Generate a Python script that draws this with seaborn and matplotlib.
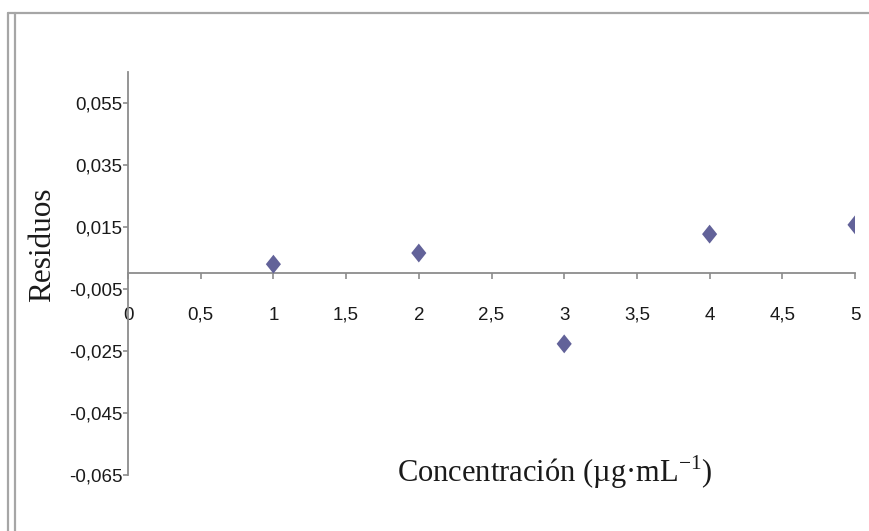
import matplotlib
matplotlib.use("Agg")
import matplotlib.pyplot as plt
from matplotlib.lines import Line2D
from matplotlib.ticker import FixedLocator, FuncFormatter
import seaborn as sns
import pandas as pd

# residuals
concentracion = [1, 2, 3, 4, 5]
residuos = [0.0030, 0.0066, -0.0227, 0.0127, 0.0157]
x_ticks = [0, 0.5, 1, 1.5, 2, 2.5, 3, 3.5, 4, 4.5, 5]
y_ticks = [-0.065, -0.045, -0.025, -0.005, 0.015, 0.035, 0.055]

df = pd.DataFrame({'conc': concentracion, 'res': residuos})

sns.set_style("white")
plt.rcParams['font.family'] = ['Liberation Sans', 'DejaVu Sans']

fig = plt.figure(figsize=(8.69, 5.31), dpi=100)
ax = fig.add_axes([0.1473, 0.1055, 0.8366, 0.7589])

diamond = [(0, 1), (0.8, 0), (0, -1), (-0.8, 0), (0, 1)]
sns.scatterplot(data=df, x='conc', y='res', marker=diamond, s=185,
                color='#626299', edgecolor='none', ax=ax, zorder=3)

ax.set_xlim(0, 5)
ax.set_ylim(-0.065, 0.065)

axis_col = '#8c8c8c'
for side in ['top', 'right']:
    ax.spines[side].set_visible(False)
ax.spines['bottom'].set_position(('data', 0))
ax.spines['left'].set_position(('data', 0))
for side in ['bottom', 'left']:
    ax.spines[side].set_color(axis_col)
    ax.spines[side].set_linewidth(1.3)

comma = FuncFormatter(lambda v, p: ('%g' % round(v, 3)).replace('.', ','))
ax.xaxis.set_major_locator(FixedLocator(x_ticks))
ax.yaxis.set_major_locator(FixedLocator(y_ticks))
ax.xaxis.set_major_formatter(comma)
ax.yaxis.set_major_formatter(comma)
ax.tick_params(axis='x', direction='out', length=4, width=1.2, color=axis_col,
               pad=20, labelsize=13.5, labelcolor='#1a1a1a', bottom=True)
ax.tick_params(axis='y', direction='out', length=3.5, width=1.2, color=axis_col,
               pad=0.5, labelsize=13.5, labelcolor='#1a1a1a', left=True)

ax.set_xlabel('Concentración (µg·mL$^{\\mathregular{-1}}$)', family='Liberation Serif',
              fontsize=22, color='#1a1a1a', va='center')
ax.xaxis.set_label_coords(0.587, 0.008)
ax.set_ylabel('Residuos', family='Liberation Serif', fontsize=22.5, color='#1a1a1a')
ax.yaxis.set_label_coords(-0.098, 0.571)

# frame lines of the original chart box
frame_col = '#a6a6a6'
fig.add_artist(Line2D([8 / 869, 1], [1 - 13 / 531] * 2, color=frame_col, lw=1.6))
fig.add_artist(Line2D([8 / 869] * 2, [0, 1 - 13 / 531], color=frame_col, lw=1.6))
fig.add_artist(Line2D([15 / 869] * 2, [0, 1 - 13 / 531], color=frame_col, lw=1.6))

plt.savefig('out.png', dpi=100)
